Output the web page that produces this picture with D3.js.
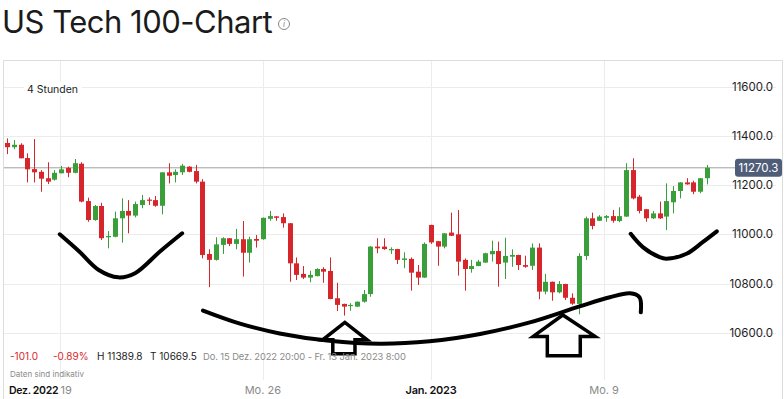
<!DOCTYPE html>
<html><head><meta charset="utf-8">
<script src="https://cdn.jsdelivr.net/npm/d3@7"></script>
<style>
html,body{margin:0;padding:0;background:#fff;}
svg{display:block;font-family:Inter,"Noto Sans",sans-serif;}
</style></head>
<body>
<svg id="c" width="784" height="399"></svg>
<script>
// Candle data (4-hour), index = position
const opens  = [11371.3,11354,11364,11310,11265,11254,11228,11222,11248,11270,11250,11287,11135,11058,11115,10988,10990,11065,11095,11076,11119,11141,11139,11116,11252,11241,11252,11275,11257,11214,10920,10896,10957,10984,10961,10980,10925,10981,10980,11063,11073,11070,11045,10882,10839,10824,10830,10859,10851,10740,10717,10709,10706,10726,10757,10950,10950,10936,10940,10896,10900,10848,10824,11038,10972,10950,11007,11000,10896,10859,10871,10885,10919,10932,10885,10909,10916,10875,10872,10946,10767,10807,10764,10798,10742,10717,10912,11065,11055,11067,11074,11054,11072,11261,11153,11102,11065,11085,11072,11130,11176,11211,11211,11173,11228];
const highs  = [11389.8,11383,11370,11329,11387,11261,11293,11261,11278,11275,11306,11293,11149,11119,11128,11013,11092,11146,11139,11133,11160,11150,11156,11252,11289,11264,11286,11277,11282,11224,10939,10988,10988,10985,11022,11054,10990,10997,11068,11095,11074,11085,11046,10906,10871,10852,10862,10866,10906,10803,10718,10720,10727,10774,10952,10984,10984,10947,10941,10927,10906,10875,10967,11039,10973,11005,11088,11099,10902,10896,10896,10925,10974,10970,10986,10939,10917,10913,10963,10963,10839,10808,10810,10799,10760,10923,11072,11088,11078,11078,11099,11110,11289,11309,11160,11103,11095,11133,11207,11196,11212,11228,11218,11229,11282];
const lows   = [11326,11346,11309,11211,11211,11173,11204,11218,11248,11232,11248,11130,11051,11055,10977,10943,10988,10966,11004,11069,11106,11119,11112,11081,11207,11211,11241,11252,11207,10902,10785,10893,10920,10952,10939,10828,10885,10946,10978,11055,11055,11027,10807,10814,10818,10805,10829,10803,10736,10688,10669.5,10689,10705,10722,10746,10923,10937,10920,10879,10862,10771,10794,10823,10961,10872,10943,10993,10832,10771,10844,10870,10884,10889,10787,10818,10868,10855,10864,10855,10736,10756,10730,10760,10733,10713,10675,10896,11020,11054,11051,11047,11049,11071,11142,11085,11051,11062,11062,11017,11085,11146,11202,11163,11167,11203];
const closes = [11354,11364,11309,11264,11252,11226,11214,11250,11264,11250,11289,11133,11058,11115,10984,10993,11065,11095,11076,11123,11139,11137,11116,11252,11238,11254,11279,11254,11214,10916,10896,10959,10984,10961,10980,10925,10980,10974,11067,11074,11067,11045,10882,10835,10824,10835,10859,10848,10737,10713,10706,10713,10726,10757,10950,10943,10940,10940,10896,10902,10844,10824,10961,10967,10950,11004,10994,10889,10859,10871,10889,10923,10932,10879,10912,10916,10875,10868,10946,10767,10807,10764,10798,10742,10718,10912,11065,11034,11072,11074,11055,11074,11261,11146,11095,11065,11085,11065,11135,11176,11211,11203,11173,11228,11270.3];

const yTicks = [10600, 10800, 11000, 11200, 11400, 11600];
const xTickPos = [7.85, 38, 63, 88.75];
const xTickLabels = ["19", "Mo. 26", "Jan. 2023", "Mo. 9"];
const lastPrice = 11270.3;
const stats = [{t:"-101.0",c:"#d7262b"},{t:"-0.89%",c:"#d7262b"},{t:"H 11389.8",c:"#1a1a1a"},{t:"T 10669.5",c:"#1a1a1a"},{t:"Do. 15 Dez. 2022 20:00 - Fr. 13 Jan. 2023 8:00",c:"#8a8a8a"}];

// Hand-drawn annotations in (index, value) space
const smileLeft  = [[7.8,11000],[10.7,10930],[13.6,10855],[16.5,10825],[19,10842],[22.7,10930],[26,11004]];
const bigArc     = [[29.1,10690],[34.6,10637],[40.5,10597],[47.9,10567],[55.4,10555],[62.8,10565],[70.3,10595],[77.7,10642],[85.1,10707],[89.6,10744],[92.6,10760],[94,10744],[94.2,10683]];
const smileRight = [[92.7,11002],[94.5,10948],[97,10907],[98,10901],[101,10921],[103.4,10968],[105.5,11012]];
const arrow1 = [[50.2,10642],[46.9,10571],[48.4,10571],[48.4,10514],[51.7,10514],[51.7,10571],[53.5,10571],[50.2,10642]];
const arrow2 = [[82.6,10672],[78.2,10585],[80.3,10585],[80.3,10506],[85.2,10506],[85.2,10585],[87.4,10585],[82.6,10672]];

const svg = d3.select("#c");
const x = d3.scaleLinear().domain([0, opens.length - 1]).range([7.3, 706.7]);
const y = d3.scaleLinear().domain([10600, 11600]).range([332.7, 86.7]);

// Title
svg.append("text").attr("x", 2).attr("y", 33).attr("font-size", 31).attr("fill", "#1b1b1b")
  .attr("letter-spacing", -0.5).text("US Tech 100-Chart");
const ic = svg.append("g").attr("transform", "translate(284,24)");
ic.append("circle").attr("r", 5.5).attr("fill", "none").attr("stroke", "#888").attr("stroke-width", 1);
ic.append("text").attr("y", 3).attr("text-anchor", "middle").attr("font-size", 8).attr("font-style", "italic").attr("fill", "#888").text("i");

// Frame
svg.append("path").attr("d", "M3.5,399 V60.5 H782.5 V399").attr("fill", "none").attr("stroke", "#dcdcdc");

// Grid
svg.append("g").selectAll("line").data(yTicks).join("line")
  .attr("x1", 4).attr("x2", 776).attr("y1", d => Math.round(y(d)) + 0.5).attr("y2", d => Math.round(y(d)) + 0.5)
  .attr("stroke", "#ececec");
svg.append("g").selectAll("line").data(xTickPos).join("line")
  .attr("x1", d => Math.round(x(d)) + 0.5).attr("x2", d => Math.round(x(d)) + 0.5).attr("y1", 61).attr("y2", 380)
  .attr("stroke", "#ececec");

// Y labels
svg.append("g").selectAll("text").data(yTicks).join("text")
  .attr("x", 773).attr("y", d => y(d)).attr("dy", "0.35em").attr("text-anchor", "end")
  .attr("font-size", 11.5).attr("fill", "#1e1e1e").text(d => d3.format(".1f")(d));

// "4 Stunden"
svg.append("rect").attr("x", 24).attr("y", 82).attr("width", 58).attr("height", 14).attr("fill", "#fff");
svg.append("text").attr("x", 27).attr("y", 93).attr("font-size", 10.5).attr("fill", "#1e1e1e").text("4 Stunden");

// Last price line
svg.append("line").attr("x1", 4).attr("x2", 735).attr("y1", y(lastPrice)).attr("y2", y(lastPrice))
  .attr("stroke", "#a0a0a0").attr("stroke-width", 1);

// Candles
const idx = d3.range(opens.length);
const col = i => closes[i] >= opens[i] ? "#3a9f3a" : "#d7262b";
const cg = svg.append("g");
cg.selectAll("line").data(idx).join("line")
  .attr("x1", i => Math.round(x(i)) + 0.5).attr("x2", i => Math.round(x(i)) + 0.5)
  .attr("y1", i => y(highs[i])).attr("y2", i => y(lows[i]))
  .attr("stroke", col).attr("stroke-width", 1);
cg.selectAll("rect").data(idx).join("rect")
  .attr("x", i => Math.round(x(i)) - 2).attr("width", 5)
  .attr("y", i => y(Math.max(opens[i], closes[i])))
  .attr("height", i => Math.max(1.2, Math.abs(y(opens[i]) - y(closes[i]))))
  .attr("fill", col);

// Price tag
svg.append("rect").attr("x", 735).attr("y", y(lastPrice) - 9).attr("width", 47).attr("height", 18).attr("rx", 3)
  .attr("fill", "#4f5d78");
svg.append("text").attr("x", 758.5).attr("y", y(lastPrice)).attr("dy", "0.35em").attr("text-anchor", "middle")
  .attr("font-size", 11.5).attr("fill", "#fff").text(d3.format(".1f")(lastPrice));

// Annotations
const line = d3.line().x(d => x(d[0])).y(d => y(d[1])).curve(d3.curveCatmullRom);
const ag = svg.append("g").attr("fill", "none").attr("stroke", "#000").attr("stroke-linecap", "round").attr("stroke-linejoin", "round");
[smileLeft, bigArc, smileRight].forEach(p => ag.append("path").attr("d", line(p)).attr("stroke-width", 4));
const lin = d3.line().x(d => x(d[0])).y(d => y(d[1]));
[arrow1, arrow2].forEach(p => ag.append("path").attr("d", lin(p) + "Z").attr("stroke-width", 3.5).attr("stroke-linejoin", "miter"));

// Stats row
const statX = [10, 53, 97, 150, 203];
stats.forEach((s, i) => {
  svg.append("text").attr("x", statX[i]).attr("y", 360).attr("font-size", i === 4 ? 9.4 : 10)
    .attr("letter-spacing", i === 4 ? -0.1 : 0).attr("fill", s.c).text(s.t);
});
svg.append("text").attr("x", 10).attr("y", 377).attr("font-size", 8).attr("fill", "#8a8a8a").text("Daten sind indikativ");

// X labels
svg.append("text").attr("x", 9).attr("y", 394).attr("font-size", 10.5).attr("font-weight", 600)
  .attr("letter-spacing", -0.3).attr("fill", "#111").text("Dez. 2022");
svg.append("g").selectAll("text").data(xTickPos).join("text")
  .attr("x", (d, i) => i === 0 ? x(d) + 0.5 : x(d)).attr("y", 394)
  .attr("text-anchor", (d, i) => i === 0 ? "start" : "middle")
  .attr("font-size", 11)
  .attr("fill", (d, i) => xTickLabels[i].startsWith("Jan") ? "#111" : "#8a8a8a")
  .attr("font-weight", (d, i) => xTickLabels[i].startsWith("Jan") ? 600 : 400)
  .attr("letter-spacing", (d, i) => xTickLabels[i].startsWith("Jan") ? -0.3 : 0)
  .text((d, i) => xTickLabels[i]);
</script>
</body></html>
